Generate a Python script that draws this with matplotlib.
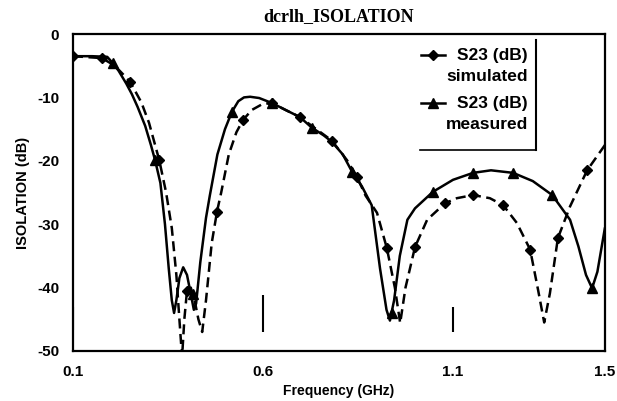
import matplotlib
matplotlib.use("Agg")
import matplotlib.pyplot as plt

plt.rcParams['font.family'] = ['Liberation Sans', 'DejaVu Sans']

title = "dcrlh_ISOLATION"
xlabel = "Frequency (GHz)"
ylabel = "ISOLATION (dB)"
xticks = [0.1, 0.6, 1.1, 1.5]
xticklabels = ["0.1", "0.6", "1.1", "1.5"]
yticks = [0, -10, -20, -30, -40, -50]

# measured S23 (solid curve)
meas_f = [0.1, 0.15, 0.19, 0.205, 0.22, 0.24, 0.255, 0.27, 0.29, 0.305, 0.316, 0.33,
          0.342, 0.352, 0.36, 0.366, 0.372, 0.38, 0.39, 0.40, 0.41, 0.418, 0.424,
          0.435, 0.45, 0.46, 0.48, 0.50, 0.518, 0.535, 0.55, 0.566, 0.59, 0.624,
          0.66, 0.697, 0.729, 0.76, 0.781, 0.81, 0.835, 0.86, 0.886, 0.908, 0.925,
          0.934, 0.945, 0.96, 0.98, 1.0, 1.047, 1.1, 1.153, 1.2, 1.258, 1.31,
          1.361, 1.408, 1.43, 1.45, 1.466, 1.48, 1.5]
meas_db = [-3.5, -3.5, -3.6, -4.6, -5.8, -7.8, -9.5, -11.5, -14.5, -17.5, -19.9, -23.5,
           -30.0, -37.0, -42.0, -44.0, -42.0, -38.5, -36.8, -38.0, -41.0, -43.5, -42.5,
           -36.0, -29.0, -25.5, -19.0, -15.0, -12.3, -10.6, -10.0, -9.9, -10.1, -10.9,
           -12.0, -13.1, -14.8, -16.0, -17.0, -19.0, -21.8, -24.0, -27.0, -37.0, -43.5,
           -45.2, -42.0, -35.0, -29.3, -27.5, -24.9, -23.0, -21.9, -21.5, -21.9, -23.2,
           -25.4, -29.3, -33.5, -38.0, -40.1, -37.5, -30.5]
meas_mark_f = [0.205, 0.316, 0.415, 0.518, 0.624, 0.729, 0.835, 0.94, 1.047, 1.153,
               1.258, 1.361, 1.466]
meas_mark_db = [-4.6, -19.9, -41.0, -12.3, -10.9, -14.8, -21.8, -44.0, -24.9, -21.9,
                -21.9, -25.4, -40.1]

# simulated S23 (dashed curve)
sim_f = [0.1, 0.176, 0.21, 0.25, 0.28, 0.30, 0.327, 0.345, 0.36, 0.372, 0.38, 0.387,
         0.393, 0.40, 0.41, 0.42, 0.43, 0.44, 0.45, 0.465, 0.479, 0.49, 0.51, 0.53,
         0.547, 0.57, 0.6, 0.624, 0.66, 0.697, 0.74, 0.781, 0.821, 0.847, 0.87, 0.9,
         0.926, 0.947, 0.961, 0.975, 1.0, 1.032, 1.079, 1.11, 1.153, 1.197, 1.232,
         1.268, 1.303, 1.324, 1.34, 1.355, 1.376, 1.408, 1.453, 1.5]
sim_db = [-3.5, -3.8, -5.0, -7.5, -10.8, -14.0, -19.9, -25.0, -30.6, -38.0, -45.0, -51.0,
          -45.0, -40.5, -40.0, -42.0, -45.0, -47.0, -42.0, -33.0, -28.0, -25.0, -19.0, -15.5,
          -13.6, -12.0, -11.0, -10.9, -12.0, -13.1, -15.0, -16.8, -19.9, -22.5, -25.5, -28.2,
          -33.8, -40.0, -45.6, -40.0, -33.6, -29.3, -26.7, -25.9, -25.4, -25.9, -27.0,
          -29.8, -34.0, -40.4, -45.5, -40.9, -32.2, -27.2, -21.5, -17.5]
sim_mark_f = [0.1, 0.176, 0.25, 0.327, 0.40, 0.479, 0.547, 0.624, 0.697, 0.781, 0.847,
              0.926, 1.0, 1.079, 1.153, 1.232, 1.303, 1.376, 1.453]
sim_mark_db = [-3.5, -3.8, -7.5, -19.9, -40.5, -28.0, -13.6, -10.9, -13.1, -16.8, -22.5,
               -33.8, -33.6, -26.7, -25.4, -27.0, -34.0, -32.2, -21.5]

# small vertical marks near the bottom of the plot
mark_x = [0.1, 0.6, 1.1]
mark_top = [-43.0, -41.2, -43.0]
mark_bot = [-46.7, -47.0, -47.0]

W, H = 617, 401
fig = plt.figure(figsize=(W / 100, H / 100), dpi=100)
x0, x1, ytop, ybot = 73, 605, 34, 351
ax = fig.add_axes([x0 / W, 1 - ybot / H, (x1 - x0) / W, (ybot - ytop) / H])

ax.plot(meas_f, meas_db, color='black', lw=1.8, solid_capstyle='butt')
ax.plot(meas_mark_f, meas_mark_db, ls='none', marker='^', ms=7.5, color='black')
ax.plot(sim_f, sim_db, color='black', lw=1.8, dashes=(4, 2.2))
ax.plot(sim_mark_f, sim_mark_db, ls='none', marker='D', ms=5.5, color='black')
ax.vlines(mark_x, mark_bot, mark_top, color='black', lw=1.5)

ax.set_xlim(0.1, 1.5)
ax.set_ylim(-50, 0)
ax.set_xticks(xticks)
ax.set_xticklabels(xticklabels, fontsize=11, fontweight='bold')
ax.set_yticks(yticks)
ax.set_yticklabels([str(v) for v in yticks], fontsize=11, fontweight='bold')
ax.tick_params(length=0, pad=10)
ax.tick_params(axis='y', pad=10)
for s in ax.spines.values():
    s.set_linewidth(1.6)
    s.set_color('black')

ax.set_title(title, fontsize=13, fontweight='bold', pad=9, family=['Liberation Serif'])
ax.set_xlabel(xlabel, fontsize=10, fontweight='bold', labelpad=4)
ax.set_ylabel(ylabel, fontsize=10.5, fontweight='bold', labelpad=5)

# manual legend
def axf(px, py):
    return (px - x0) / (x1 - x0), (ybot - py) / (ybot - ytop)

for py, mk, ms, lbl in [(55, 'D', 5.5, "S23 (dB)\nsimulated"), (103, '^', 7.5, "S23 (dB)\nmeasured")]:
    xa, ya = axf(421, py)
    xb, _ = axf(445, py)
    xm, _ = axf(433, py)
    ax.plot([xa, xb], [ya, ya], transform=ax.transAxes, color='black', lw=1.8)
    ax.plot([xm], [ya], transform=ax.transAxes, marker=mk, ms=ms, color='black')
    xt, yt = axf(528, py - 7)
    ax.text(xt, yt, lbl, transform=ax.transAxes, ha='right', va='top', fontsize=12.5,
            fontweight='bold', linespacing=1.5)

xa, ya = axf(536, 40)
xb, yb = axf(536, 150)
ax.plot([xa, xb], [ya, yb], transform=ax.transAxes, color='black', lw=1.5)
xc, _ = axf(420, 150)
ax.plot([xc, xb], [yb, yb], transform=ax.transAxes, color='black', lw=1.2)

fig.savefig("out.png", dpi=100)
